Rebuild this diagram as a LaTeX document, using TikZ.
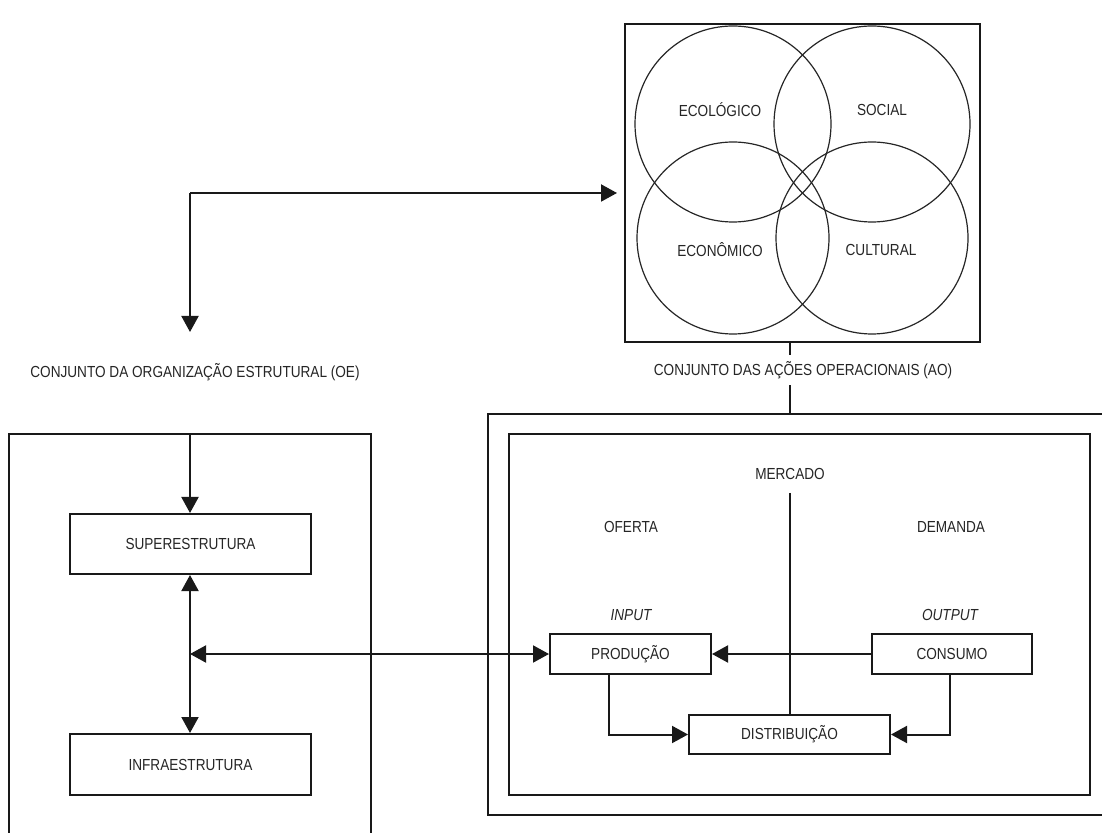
\documentclass[tikz,border=0pt]{standalone}
\usepackage{fontspec}
\setmainfont{Liberation Sans}[FakeStretch=0.85]
\usetikzlibrary{arrows.meta,calc}
\begin{document}
\begin{tikzpicture}[x=0.5pt,y=-0.5pt,
  font=\fontsize{8pt}{9.6pt}\selectfont,
  txt/.style={text=black!85, inner sep=1pt},
  conn/.style={line width=1pt, draw=black!90},
  arr/.style={conn, -{Triangle[length=8pt,width=8.5pt]}},
  darr/.style={conn, {Triangle[length=8pt,width=8.5pt]}-{Triangle[length=8pt,width=8.5pt]}},
  boxed/.style={draw=black!90, line width=1pt, inner sep=0pt, txt},
  ring/.style={draw=black!85, line width=0.6pt},
]
\clip (0,0) rectangle (1102,833);
\fill[white] (0,0) rectangle (1102,833);

% ---- top box with circles ----
\node[boxed, minimum width=177.5pt, minimum height=159pt] (topbox) at (802.5,183) {};
\draw[ring] (733,124) circle[radius=98];
\draw[ring] (872,124) circle[radius=98];
\draw[ring] (733,238) circle[radius=96];
\draw[ring] (872,238) circle[radius=96];
\node[txt] (eco) at (720,110) {ECOLÓGICO};
\node[txt] (soc) at (882,110) {SOCIAL};
\node[txt] (econ) at (720,250) {ECONÔMICO};
\node[txt] (cult) at (881,250) {CULTURAL};

% ---- top connector ----
\coordinate (corner) at (190,193);
\coordinate (toptip) at (617,193);
\coordinate (oetip) at (190,332);
\draw[arr] (corner) -- (toptip);
\draw[arr] (corner) -- (oetip);

\node[txt] (oe) at (195,372) {CONJUNTO DA ORGANIZAÇÃO ESTRUTURAL (OE)};

% ---- link top box to AO group ----
\coordinate (ao1) at (790,342);
\coordinate (ao2) at (790,414);
\draw[conn] (ao1) -- (ao2);
\node[txt, fill=white, inner sep=3pt] (ao) at (803,370) {CONJUNTO DAS AÇÕES OPERACIONAIS (AO)};

% ---- left box (OE) ----
\coordinate (lbtl) at (9,434);
\coordinate (lbtr) at (371,434);
\draw[conn] (9,845) -- (lbtl) -- (lbtr) -- (371,845);
\node[boxed, minimum width=120.5pt, minimum height=30pt] (sup) at (190.5,544) {SUPERESTRUTURA};
\node[boxed, minimum width=120.5pt, minimum height=30.5pt] (inf) at (190.5,764.5) {INFRAESTRUTURA};
\coordinate (ltop) at (190,434);
\draw[arr] (ltop) -- (sup.north -| ltop);
\draw[darr] (sup.south -| ltop) -- (inf.north -| ltop);

% ---- right boxes (AO) ----
\coordinate (obtl) at (488,414);
\draw[conn] (1110,414) -- (obtl) -- (488,815) -- (1110,815);
\node[draw=black!90, line width=1pt, minimum width=290.5pt, minimum height=180.5pt, inner sep=0pt] (inner) at (799.5,614.5) {};

\node[txt] (merc) at (790,474) {MERCADO};
\node[txt] (ofe) at (631,527) {OFERTA};
\node[txt] (dem) at (951,527) {DEMANDA};
\node[txt] (inp) at (631,615) {\itshape INPUT};
\node[txt] (outp) at (950,615) {\itshape OUTPUT};

\node[boxed, minimum width=80.5pt, minimum height=20pt] (prod) at (630.5,654) {PRODUÇÃO};
\node[boxed, minimum width=80pt, minimum height=20pt] (cons) at (952,654) {CONSUMO};
\node[boxed, minimum width=100.5pt, minimum height=19.5pt] (dist) at (789.5,734.5) {DISTRIBUIÇÃO};

\coordinate (mtop) at (790,493);
\draw[conn] (mtop) -- (dist.north -| mtop);

\draw[arr] (cons.west) -- (prod.east);
\coordinate (px) at (609,674);
\draw[arr] (px) |- (dist.west);
\coordinate (cx) at (950,674);
\draw[arr] (cx) |- (dist.east);

\coordinate (mid) at (190,654);
\draw[darr] (mid) -- (prod.west);
\end{tikzpicture}
\end{document}
